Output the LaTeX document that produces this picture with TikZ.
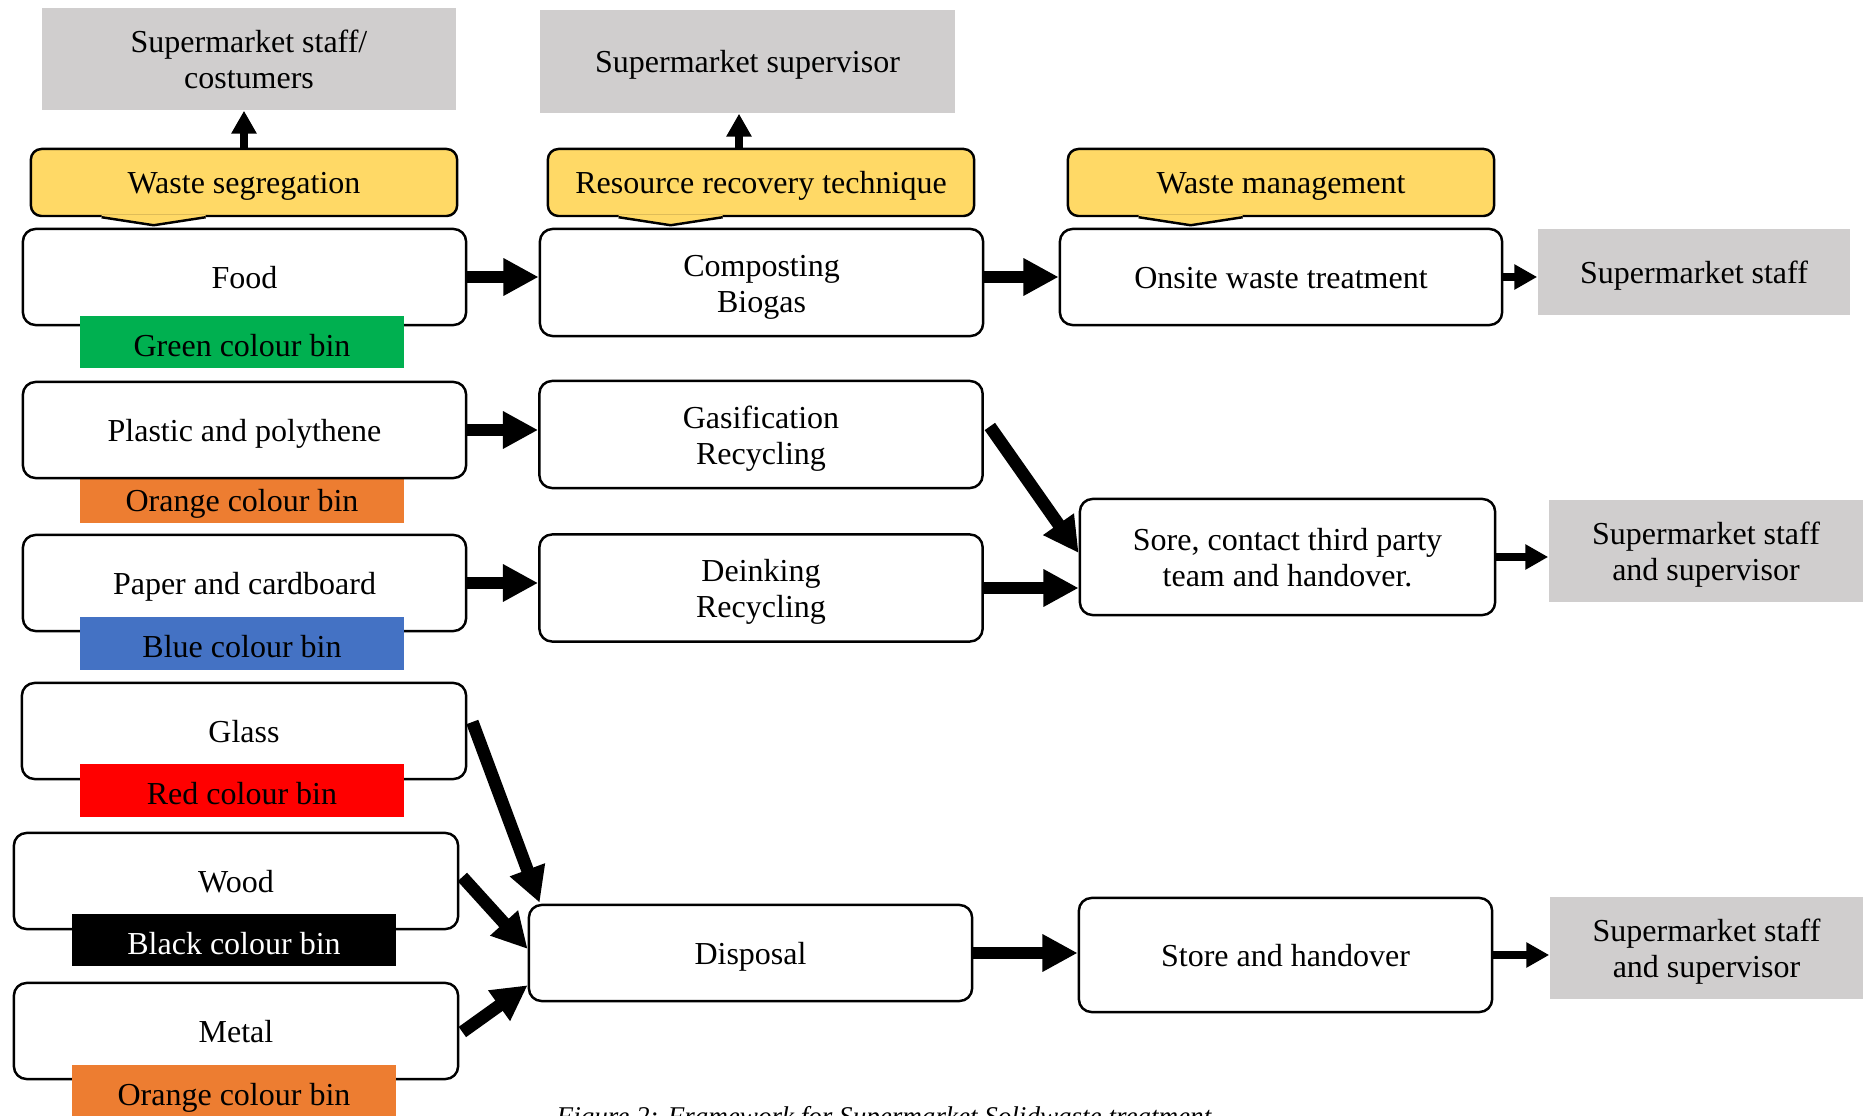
\documentclass[tikz,border=0pt]{standalone}
\usepackage{fontspec}
\setmainfont{Liberation Serif}
\usetikzlibrary{arrows.meta,calc}
\definecolor{calloutY}{RGB}{255,217,102}
\definecolor{greyB}{RGB}{208,206,206}
\definecolor{binGreen}{RGB}{0,176,80}
\definecolor{binOrange}{RGB}{237,125,49}
\definecolor{binBlue}{RGB}{68,114,196}
\definecolor{binRed}{RGB}{255,0,0}
\newcommand\mypointer[1]{%
  \fill[calloutY] ($(#1.south west)+(72,-2)$) -- ($(#1.south west)+(72,0)$) -- ($(#1.south west)+(124,8)$) -- ($(#1.south west)+(176,0)$) -- ($(#1.south west)+(176,-2)$) -- cycle;
  \draw[line width=0.7pt, line join=miter] ($(#1.south west)+(72,0)$) -- ($(#1.south west)+(124,8)$) -- ($(#1.south west)+(176,0)$);}
\begin{document}
\begin{tikzpicture}[x=0.01cm, y=-0.01cm,
  txt/.style={font=\fontsize{9.1}{10.2}\selectfont, inner sep=0pt, align=center},
  one/.style={text height=6.5pt, text depth=0pt},
  two/.style={text height=16.8pt, text depth=0pt},
  wbox/.style={txt, draw, line width=0.7pt, rounded corners=3.6pt, fill=white, minimum width=4.43cm},
  greybox/.style={txt, fill=greyB},
  callbox/.style={txt, one, draw, line width=0.7pt, rounded corners=3pt, fill=calloutY, minimum width=4.26cm, minimum height=0.67cm},
  bin/.style={font=\fontsize{9.1}{10.2}\selectfont, inner sep=0pt, minimum width=3.24cm, minimum height=0.52cm, text height=8pt, text depth=0pt},
  fat/.style={line width=3.6pt, -{Triangle[length=10pt,width=10pt]}},
  thinarr/.style={line width=2.3pt, -{Triangle[length=6.5pt,width=6.8pt]}},
  uparr/.style={line width=2.2pt, -{Triangle[length=6.5pt,width=6.8pt]}}]
\fill[white] (0,0) rectangle (1863,1116);
\useasboundingbox (0,0) rectangle (1863,1116);

% top grey boxes
\node[greybox, two, minimum width=4.14cm, minimum height=1.02cm] (g1) at (249,59) {Supermarket staff/\\costumers};
\node[greybox, one, minimum width=4.15cm, minimum height=1.03cm] (g2) at (747.5,61.5) {Supermarket supervisor};

% callouts
\node[callbox] (ws) at (244,182.5) {Waste segregation};
\mypointer{ws}
\node[callbox] (rr) at (761,182.5) {Resource recovery technique};
\mypointer{rr}
\node[callbox] (wm) at (1281,182.5) {Waste management};
\mypointer{wm}

% left column
\node[bin, fill=binOrange, minimum height=0.52cm] (obin1) at (242,497) {Orange colour bin};
\node[wbox, one, minimum height=0.96cm] (food) at (244.5,277) {Food};
\node[wbox, one, minimum height=0.96cm] (plastic) at (244.5,430) {Plastic and polythene};
\node[wbox, one, minimum height=0.96cm] (paper) at (244.5,583) {Paper and cardboard};
\node[wbox, one, minimum width=4.44cm, minimum height=0.96cm] (glass) at (244,731) {Glass};
\node[wbox, one, minimum width=4.44cm, minimum height=0.96cm] (wood) at (236,881) {Wood};
\node[wbox, one, minimum width=4.44cm, minimum height=0.96cm] (metal) at (236,1031) {Metal};

\node[bin, fill=binGreen] (gbin) at (242,342) {Green colour bin};
\node[bin, fill=binBlue] (bbin) at (242,643.5) {Blue colour bin};
\node[bin, fill=binRed] (rbin) at (242,790.5) {Red colour bin};
\node[bin, fill=black, text=white] (kbin) at (234,940) {Black colour bin};
\node[bin, fill=binOrange] (obin2) at (234,1091) {Orange colour bin};

% middle column
\node[wbox, two, minimum height=1.07cm] (comp) at (761.5,282.5) {Composting\\Biogas};
\node[wbox, two, minimum height=1.07cm] (gas) at (761,434.5) {Gasification\\Recycling};
\node[wbox, two, minimum height=1.07cm] (deink) at (761,588) {Deinking\\Recycling};
\node[wbox, one, minimum height=0.96cm] (disp) at (750.5,953) {Disposal};

% right column
\node[wbox, one, minimum width=4.42cm, minimum height=0.96cm] (onsite) at (1281,277) {Onsite waste treatment};
\node[wbox, two, minimum width=4.15cm, minimum height=1.16cm] (sore) at (1287.5,557) {Sore, contact third party\\team and handover.};
\node[wbox, one, minimum width=4.13cm, minimum height=1.14cm] (store) at (1285.5,955) {Store and handover};

% far right grey
\node[greybox, one, minimum width=3.12cm, minimum height=0.86cm] (staff) at (1694,272) {Supermarket staff};
\node[greybox, two, minimum width=3.14cm, minimum height=1.02cm] (ss1) at (1706,551) {Supermarket staff\\and supervisor};
\node[greybox, two, minimum width=3.13cm, minimum height=1.02cm] (ss2) at (1706.5,948) {Supermarket staff\\and supervisor};

% connectors
\draw[uparr] (ws.north) -- (ws.north |- g1.south);
\coordinate (rrtop) at ($(rr.north)+(-22,0)$);
\draw[uparr] (rrtop) -- (rrtop |- g2.south);

\draw[fat] (food.east) -- (food.east -| comp.west);
\draw[fat] (plastic.east) -- (plastic.east -| gas.west);
\draw[fat] (paper.east) -- (paper.east -| deink.west);
\draw[fat] (onsite.west -| comp.east) -- (onsite.west);
\draw[fat] ($(gas.east)+(6,-8)$) -- ($(sore.west)+(0,-4)$);
\draw[fat] (deink.east) -- (deink.east -| sore.west);
\draw[fat] (disp.east) -- (disp.east -| store.west);
\draw[fat] ($(glass.east)+(5,-9)$) -- ($(disp.north west)+(12,-1)$);
\draw[fat] ($(wood.east)+(3,-4)$) -- ($(disp.west)+(0,-4)$);
\draw[fat] ($(metal.east)+(3,1)$) -- ($(disp.south west)+(0,-17)$);

\draw[thinarr] (onsite.east) -- (onsite.east -| staff.west);
\draw[thinarr] (sore.east) -- (sore.east -| ss1.west);
\draw[thinarr] (store.east) -- (store.east -| ss2.west);

% caption (cut off at the bottom edge, as in the reference)
\node[anchor=base west, inner sep=0pt, font=\fontsize{7.7}{9}\selectfont\itshape] (cap) at (556,1126) {Figure 2: Framework for Supermarket Solidwaste treatment};
\end{tikzpicture}
\end{document}
